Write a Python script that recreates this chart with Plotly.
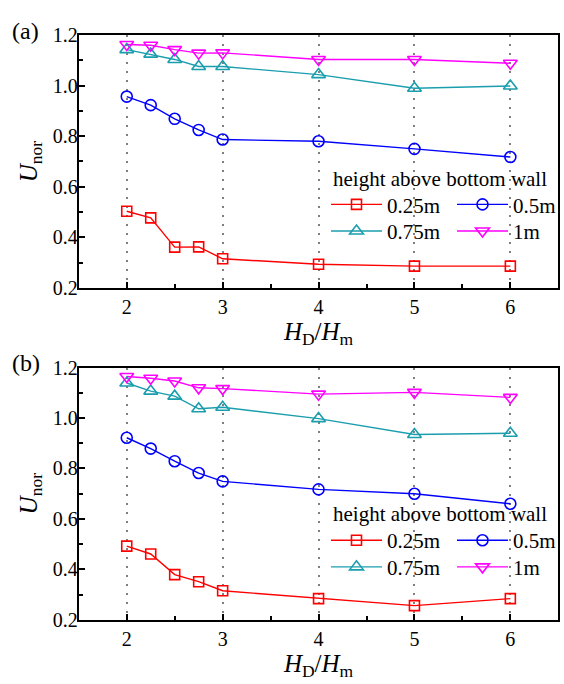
import plotly.graph_objects as go

X = [2, 2.25, 2.5, 2.75, 3, 4, 5, 6]
labels = ["0.25m", "0.5m", "0.75m", "1m"]

a_025 = [0.503, 0.477, 0.361, 0.362, 0.315, 0.293, 0.286, 0.286]
a_050 = [0.957, 0.923, 0.869, 0.825, 0.787, 0.780, 0.750, 0.718]
a_075 = [1.143, 1.125, 1.104, 1.076, 1.076, 1.044, 0.990, 0.999]
a_100 = [1.163, 1.160, 1.143, 1.129, 1.130, 1.104, 1.104, 1.089]

b_025 = [0.492, 0.461, 0.379, 0.351, 0.315, 0.284, 0.256, 0.284]
b_050 = [0.922, 0.879, 0.829, 0.782, 0.749, 0.717, 0.700, 0.660]
b_075 = [1.139, 1.107, 1.087, 1.037, 1.043, 0.998, 0.935, 0.940]
b_100 = [1.165, 1.158, 1.147, 1.120, 1.117, 1.095, 1.102, 1.082]

colors = ["#FF0000", "#0000FF", "#1A9EAE", "#FF00FF"]
symbols = ["square-open", "circle-open", "triangle-up-open", "triangle-down-open"]
msizes = [10, 11, 12, 12]

FONT = "Liberation Serif"

fig = go.Figure()

panels = [(a_025, a_050, a_075, a_100), (b_025, b_050, b_075, b_100)]
W, H = 564, 684

# legend placement (pixels): columns / rows per panel
col_x = [326, 452]          # 0.25m,0.75m in col 0 ; 0.5m,1m in col 1
row_top = [[179, 206.5], [526, 553.5]]
item_col = [0, 1, 0, 1]
item_row = [0, 0, 1, 1]

legends = {}
for p, series in enumerate(panels):
    xa = "x" if p == 0 else "x2"
    ya = "y" if p == 0 else "y2"
    for i, ys in enumerate(series):
        lid = "legend" if (p == 0 and i == 0) else "legend%d" % (p * 4 + i + 1)
        fig.add_trace(go.Scatter(
            x=X, y=ys, xaxis=xa, yaxis=ya, name=labels[i],
            mode="lines+markers",
            line=dict(color=colors[i], width=1.4),
            marker=dict(symbol=symbols[i], size=msizes[i], color=colors[i],
                        line=dict(color=colors[i], width=1.6)),
            legend=lid, showlegend=True,
        ))
        legends[lid] = dict(
            x=col_x[item_col[i]] / W, y=1 - row_top[p][item_row[i]] / H,
            xanchor="left", yanchor="top",
            bgcolor="rgba(0,0,0,0)", borderwidth=0,
            font=dict(family=FONT, size=21, color="black"),
            itemwidth=51, orientation="v",
            itemclick=False, itemdoubleclick=False)

xdom = [78.8 / W, 558.3 / W]
ydomA = [1 - 286 / H, 1 - 25 / H]
ydomB = [1 - 629 / H, 1 - 368.5 / H]

def xaxis_cfg(dom, anchor):
    return dict(
        domain=dom, anchor=anchor, range=[1.5, 6.5],
        tickvals=[2, 3, 4, 5, 6], ticks="inside", ticklen=6, tickwidth=1.5,
        tickcolor="black",
        minor=dict(dtick=0.5, tick0=1.5, ticks="inside", ticklen=4, tickwidth=1.5,
                   tickcolor="black", showgrid=False),
        showline=True, linewidth=2, linecolor="black", mirror=True,
        showgrid=True, gridcolor="#808080", griddash="2px,7px", gridwidth=1.5,
        zeroline=False,
        tickfont=dict(family=FONT, size=20, color="black"),
        title=dict(text="<i>H</i><sub>D</sub>/<i>H</i><sub>m</sub>",
                   font=dict(family=FONT, size=25, color="black"), standoff=0),
    )

def yaxis_cfg(dom, anchor):
    return dict(
        domain=dom, anchor=anchor, range=[0.2, 1.2],
        dtick=0.2, tick0=0.2, tickformat=".1f",
        ticks="inside", ticklen=6, tickwidth=1.5, tickcolor="black",
        minor=dict(dtick=0.1, tick0=0.2, ticks="inside", ticklen=4, tickwidth=1.5,
                   tickcolor="black", showgrid=False),
        showline=True, linewidth=2, linecolor="black", mirror=True,
        showgrid=False, zeroline=False, ticklabelstandoff=-5,
        tickfont=dict(family=FONT, size=20, color="black"),
        title=dict(text="<i>U</i><sub>nor</sub>",
                   font=dict(family=FONT, size=25, color="black"), standoff=8),
    )

layout = dict(
    width=W, height=H,
    margin=dict(l=0, r=0, t=0, b=0),
    paper_bgcolor="white", plot_bgcolor="white",
    font=dict(family=FONT, size=18, color="black"),
    xaxis=xaxis_cfg(xdom, "y"),
    yaxis=yaxis_cfg(ydomA, "x"),
    xaxis2=xaxis_cfg(xdom, "y2"),
    yaxis2=yaxis_cfg(ydomB, "x2"),
    annotations=[
        dict(text="(a)", x=10 / W, y=1 - 21 / H, xref="paper", yref="paper",
             xanchor="left", yanchor="middle", showarrow=False,
             font=dict(family=FONT, size=24, color="black")),
        dict(text="(b)", x=10 / W, y=1 - 364 / H, xref="paper", yref="paper",
             xanchor="left", yanchor="middle", showarrow=False,
             font=dict(family=FONT, size=24, color="black")),
        dict(text="height above bottom wall", x=331 / W, y=1 - 174 / H,
             xref="paper", yref="paper", xanchor="left", yanchor="middle",
             showarrow=False, font=dict(family=FONT, size=21, color="black")),
        dict(text="height above bottom wall", x=331 / W, y=1 - 520 / H,
             xref="paper", yref="paper", xanchor="left", yanchor="middle",
             showarrow=False, font=dict(family=FONT, size=21, color="black")),
    ],
)
layout.update(legends)
fig.update_layout(**layout)

fig.write_html("out.html")
